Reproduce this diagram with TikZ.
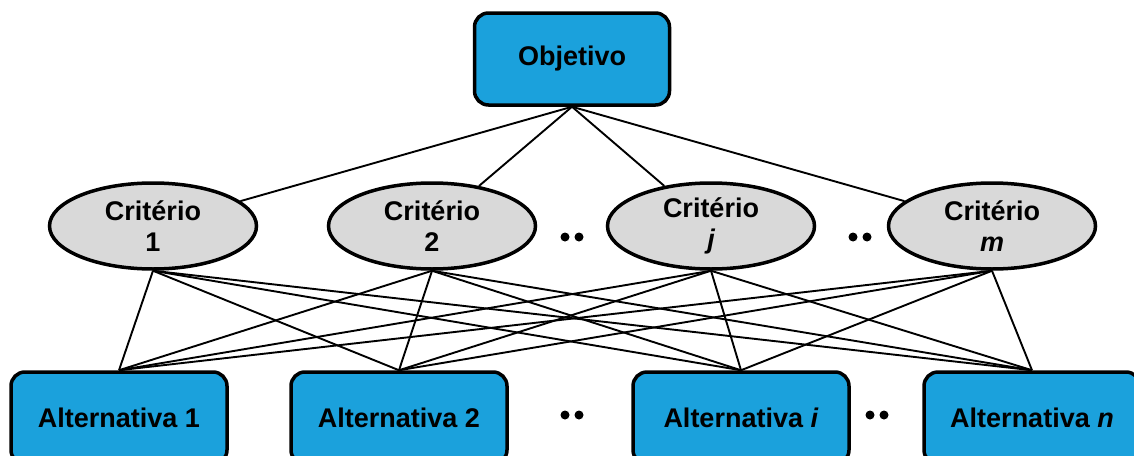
\documentclass[tikz,border=0pt]{standalone}
\usepackage{fontspec}
\setmainfont{Liberation Sans}
\usetikzlibrary{shapes.geometric}
\definecolor{boxblue}{RGB}{27,161,220}
\definecolor{critgray}{RGB}{217,217,217}
\begin{document}
\begin{tikzpicture}[x=1pt,y=-1pt,
  every node/.style={font=\bfseries\fontsize{27}{31}\selectfont},
  goalbox/.style={draw=black, line width=3.5pt, fill=boxblue, rounded corners=14pt,
    minimum width=195pt, minimum height=92pt, inner sep=0pt},
  altbox/.style={draw=black, line width=3.5pt, fill=boxblue, rounded corners=14pt,
    minimum width=216pt, minimum height=92pt, inner sep=0pt},
  critnode/.style={draw=black, line width=3.5pt, fill=critgray, ellipse,
    minimum width=207pt, minimum height=86pt, inner sep=0pt, align=center},
  link/.style={draw=black, line width=1.9pt},
  dotmark/.style={circle, fill=black, inner sep=0pt, minimum size=9pt}
]
\clip (0,0) rectangle (1134,455);
\useasboundingbox (0,0) rectangle (1134,455);

% top level
\node[goalbox] (obj) at (572,59) {Objetivo};

% criteria
\node[critnode] (c1) at (153,226) {Critério\\1};
\node[critnode] (c2) at (432,226) {Critério\\2};
\node[critnode] (cj) at (711,226) {Critério\\\itshape j};
\node[critnode] (cm) at (992,226) {Critério\\\itshape m};

% alternatives
\node[altbox] (a1) at (119,418) {Alternativa 1};
\node[altbox] (a2) at (399,418) {Alternativa 2};
\node[altbox] (ai) at (741,418) {Alternativa \textit{i}};
\node[altbox] (an) at (1032,418) {Alternativa \textit{n}};

% ellipsis dots
\foreach \nm/\px/\py in {d1/572/237, d2/860/237, d3/572/415, d4/877/415} {
  \node[dotmark] (\nm l) at (\px-7,\py) {};
  \node[dotmark] (\nm r) at (\px+7,\py) {};
}

% objective to criteria
\foreach \c in {c1,c2,cj,cm}
  \draw[link] (obj.south) -- (\c);

% criteria to alternatives
\foreach \c in {c1,c2,cj,cm}
  \foreach \a in {a1,a2,ai,an}
    \draw[link] (\c.south) -- (\a.north);
\end{tikzpicture}
\end{document}
